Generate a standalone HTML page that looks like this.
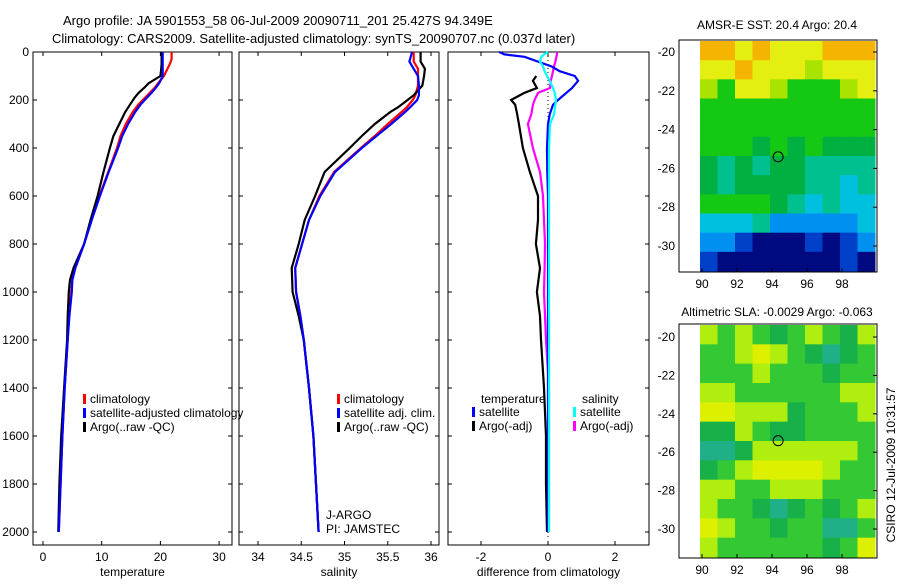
<!DOCTYPE html>
<html><head><meta charset="utf-8"><style>
body{margin:0;background:#fff;width:900px;height:580px;overflow:hidden}
svg{font-family:"Liberation Sans",sans-serif;font-size:12px}
</style></head><body>
<svg id="s" width="900" height="580" xmlns="http://www.w3.org/2000/svg">
<text x="63" y="25" font-size="13">Argo profile: JA 5901553_58 06-Jul-2009 20090711_201 25.427S 94.349E</text>
<text x="52" y="43" font-size="13">Climatology: CARS2009. Satellite-adjusted climatology: synTS_20090707.nc (0.037d later)</text>
<text x="777" y="29" text-anchor="middle">AMSR-E SST: 20.4 Argo: 20.4</text>
<text x="777" y="316" text-anchor="middle">Altimetric SLA: -0.0029 Argo: -0.063</text>
<text transform="translate(895,465) rotate(-90)" text-anchor="middle">CSIRO 12-Jul-2009 10:31:57</text>
<g id="g"></g>
</svg>
<script>
// depth grid (m)
const tDepth=[0,30,50,80,100,130,150,170,190,220,250,300,350,400,500,600,700,800,900,950,1000,1100,1200,1400,1600,1800,2000];
const tArgo=[20.2,20.2,20.2,20.1,20.0,18.0,17.2,16.3,15.6,14.8,14.0,13.0,12.0,11.4,10.3,9.3,8.1,7.0,5.2,4.6,4.4,4.2,4.1,3.6,3.1,2.8,2.6];
const tClim=[21.9,21.9,21.6,21.0,20.6,19.6,19.0,18.2,17.4,16.2,15.3,14.1,13.2,12.6,11.1,9.6,8.3,7.0,5.5,5.0,4.8,4.4,4.2,3.7,3.3,3.0,2.7];
const tSat=[20.4,20.4,20.4,20.4,20.4,19.8,19.2,18.5,17.7,16.6,15.7,14.5,13.5,12.8,11.2,9.7,8.3,7.0,5.5,5.0,4.9,4.5,4.2,3.7,3.3,3.0,2.7];
const sDepth=[0,40,70,100,140,180,200,230,250,300,350,400,500,600,700,800,900,1000,1100,1200,1400,1600,1800,2000];
const sArgo=[35.88,35.88,35.93,35.92,35.9,35.8,35.73,35.62,35.53,35.35,35.2,35.06,34.77,34.66,34.54,34.47,34.39,34.40,34.47,34.53,34.59,34.64,34.67,34.70];
const sClim=[35.80,35.80,35.85,35.85,35.85,35.82,35.79,35.72,35.66,35.50,35.35,35.19,34.88,34.71,34.59,34.51,34.43,34.44,34.49,34.53,34.59,34.64,34.67,34.70];
const sSat=[35.78,35.75,35.80,35.85,35.86,35.86,35.84,35.76,35.70,35.54,35.37,35.20,34.89,34.72,34.59,34.51,34.43,34.44,34.49,34.53,34.59,34.64,34.67,34.70];
const dDepth=[0,10,20,40,60,80,100,120,150,170,200,220,260,300,400,500,600,700,800,900,1000,1100,1200,1400,1600,1800,2000];
const dTempSat=[-1.46,-1.3,-0.7,-0.3,0.1,0.35,0.8,0.9,0.72,0.55,0.3,0.15,0.05,0,-0.03,-0.02,0,0,0,0,0,0,0,0,0,0,0];
const dTempArgo=[null,null,null,null,null,null,-0.35,-0.45,-0.33,-0.7,-1.1,-0.98,-0.92,-0.87,-0.75,-0.54,-0.3,-0.3,-0.36,-0.24,-0.33,-0.24,-0.21,-0.12,-0.06,-0.06,-0.03];
const dSalArgo=[0.27,0.27,0.25,0.22,0.18,0.15,0.12,0.08,0.06,-0.3,-0.4,-0.45,-0.5,-0.6,-0.45,-0.24,-0.15,-0.12,-0.09,-0.1,-0.12,-0.09,-0.06,0.03,0.03,0.03,0.03];
const dSalSat=[0,-0.12,-0.2,-0.24,-0.15,-0.1,-0.03,0.05,0.15,0.2,0.24,0.22,0.18,0.06,0.03,0.03,0.03,0.03,0.03,0.03,0.03,0.03,0.03,0.03,0.03,0.03,0.03];
const tTicks=[0,10,20,30], sTicks=[34,34.5,35,35.5,36], dTicks=[-2,0,2], zTicks=[0,200,400,600,800,1000,1200,1400,1600,1800,2000];
const latTicks=[-20,-22,-24,-26,-28,-30], lonTicks=[90,92,94,96,98];
const sstRows=["OOYOYYYOOO","YYOYYYLYYY","LGYYLGGGLY","GGGGGGGGGG","GGGGGGGGGG","GGGgGgGggg","gTgTggTTTT","gTggggTTCT","GGGGgTCTCC","CCCTBBBBBC","BBMNNNMNMB","MNNNNNNNMN"];
const slaRows=["LGLGgGLGgL","GGLYLGgTgG","GGGLGGGgGG","LLGGGGGGLL","YYLLLgGGGL","ggLGggGGGG","TTgLLLLLLG","gGLYYYYLGG","LLGGLLLGGG","LGGgTgGgGL","YLGGgGGTTG","LGGGGGGgGY"];
const NS="http://www.w3.org/2000/svg", G=document.getElementById('g');
function el(t,a,p){const e=document.createElementNS(NS,t);for(const k in a)e.setAttribute(k,a[k]);(p||G).appendChild(e);return e;}
const yZ=z=>52+z*0.24;
function panel(name,x0,x1,xs,ticks,fmt,label,showY){
 const b=el('rect',{x:x0,y:52,width:x1-x0,height:493,fill:'none',stroke:'#000'});
 
 ticks.forEach(v=>{const x=xs(v);el('line',{x1:x,x2:x,y1:545,y2:541,stroke:'#000'});el('line',{x1:x,x2:x,y1:52,y2:56,stroke:'#000'});
  const t=el('text',{x:x,y:561,'text-anchor':'middle'});t.textContent=fmt(v);});
 zTicks.forEach(z=>{const y=yZ(z);el('line',{x1:x0,x2:x0+4,y1:y,y2:y,stroke:'#000'});el('line',{x1:x1,x2:x1-4,y1:y,y2:y,stroke:'#000'});
  if(showY){const t=el('text',{x:x0-4,y:y+4,'text-anchor':'end'});t.textContent=z;}});
 const l=el('text',{x:(x0+x1)/2,y:576,'text-anchor':'middle'});l.textContent=label;
}
function line(name,dep,vals,xs,col){
 let d='';dep.forEach((z,i)=>{if(vals[i]===null)return;d+=(d?'L':'M')+xs(vals[i]).toFixed(1)+','+yZ(z).toFixed(1);});
 const p=el('path',{d:d,fill:'none',stroke:col,'stroke-width':2.2});
}
function legend(items,x,y){items.forEach((it,i)=>{el('rect',{x:x,y:y+i*14-9,width:3,height:10,fill:it[1]});const t=el('text',{x:x+7,y:y+i*14});t.textContent=it[0];});}
const xT=v=>43+v*5.87, xS=v=>258+(v-34)*86.5, xD=v=>548+v*33.5;
panel('temperature-panel',33,232,xT,tTicks,v=>v,'temperature',true);
panel('salinity-panel',239,439,xS,sTicks,v=>v,'salinity',false);
panel('difference-panel',448,649,xD,dTicks,v=>v,'difference from climatology',false);
el('line',{x1:548,x2:548,y1:52,y2:540,stroke:'#000','stroke-dasharray':'1,3'});
line('temp-climatology-line',tDepth,tClim,xT,'#f00');line('temp-argo-line',tDepth,tArgo,xT,'#000');line('temp-satellite-line',tDepth,tSat,xT,'#00f');
line('sal-climatology-line',sDepth,sClim,xS,'#f00');line('sal-argo-line',sDepth,sArgo,xS,'#000');line('sal-satellite-line',sDepth,sSat,xS,'#00f');
line('diff-temp-argo-line',dDepth,dTempArgo,xD,'#000');line('diff-sal-argo-line',dDepth,dSalArgo,xD,'#f0f');line('diff-temp-sat-line',dDepth,dTempSat,xD,'#00f');line('diff-sal-sat-line',dDepth,dSalSat,xD,'#0ff');
legend([['climatology','#f00'],['satellite-adjusted climatology','#00f'],['Argo(..raw -QC)','#000']],83,403);
legend([['climatology','#f00'],['satellite adj. clim.','#00f'],['Argo(..raw -QC)','#000']],337,403);
legend([['satellite','#00f'],['Argo(-adj)','#000']],472,416);legend([['satellite','#0ff'],['Argo(-adj)','#f0f']],573,416);
[['temperature',481],['salinity',582]].forEach(a=>{const t=el('text',{x:a[1],y:403});t.textContent=a[0];});
const tj=el('text',{x:326,y:519});tj.textContent='J-ARGO';
const tp=el('text',{x:326,y:533});tp.textContent='PI: JAMSTEC';
const sstPal={O:'#f4b400',Y:'#e4ee10',L:'#a8e400',G:'#14c814',g:'#00b040',T:'#00c090',C:'#00c0e0',B:'#0090f0',M:'#0040c8',N:'#000a80'};
const slaPal={L:'#b0ee10',Y:'#dcf000',G:'#34c834',g:'#18b048',T:'#20b088'};
function map(name,rows,pal,top,bottom,yLat){
 const lon=v=>702+(v-90)*17.5;
 const x0=700,x1=875,nr=rows.length,nc=rows[0].length,ch=(bottom-top)/nr,cw=(x1-x0)/nc;
 rows.forEach((r,i)=>{for(let j=0;j<nc;j++){el('rect',{x:x0+j*cw,y:top+i*ch,width:cw+0.5,height:ch+0.5,fill:pal[r[j]]});}});
 const f=el('rect',{x:679,y:top-1,width:198,height:bottom-top+2,fill:'none',stroke:'#000'});
 latTicks.forEach(v=>{const y=yLat(v);el('line',{x1:877,x2:873,y1:y,y2:y,stroke:'#000'});const t=el('text',{x:675,y:y+4,'text-anchor':'end'});t.textContent=v;});
 lonTicks.forEach(v=>{const x=lon(v);el('line',{x1:x,x2:x,y1:bottom+1,y2:bottom-3,stroke:'#000'});const t=el('text',{x:x,y:bottom+17,'text-anchor':'middle'});t.textContent=v;});
 const c=el('ellipse',{cx:lon(94.35),cy:yLat(-25.4),rx:5,ry:5,fill:'none',stroke:'#000'});
}
map('sst-map',sstRows,sstPal,41,271,v=>52+(-20-v)*19.4);
map('sla-map',slaRows,slaPal,325,557,v=>337+(-20-v)*19.2);
</script>
</body></html>
